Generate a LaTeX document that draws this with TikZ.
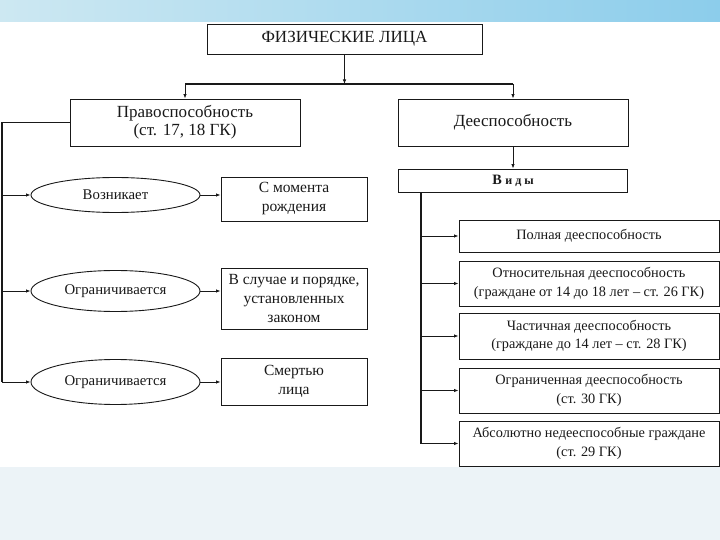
\documentclass[tikz,border=0pt]{standalone}
\usepackage{fontspec}
\setmainfont{Liberation Serif}
\usetikzlibrary{arrows.meta,shapes.geometric}
\definecolor{bandL}{RGB}{205,232,242}
\definecolor{bandR}{RGB}{140,205,235}
\definecolor{botbg}{RGB}{236,243,247}
\definecolor{ink}{RGB}{25,25,25}
\begin{document}
\begin{tikzpicture}[x=1pt,y=-1pt,
  box/.style={draw=ink, line width=0.9pt, fill=white, text=ink, align=center, inner sep=0pt},
  oval/.style={ellipse, draw=ink, line width=0.9pt, fill=white, text=ink, inner sep=0pt},
  trunk/.style={draw=ink, line width=1.2pt},
  arr/.style={draw=ink, line width=0.8pt, -{Latex[length=4.5pt,width=3.5pt]}},
  big/.style={font=\fontsize{17}{18}\selectfont},
  ovtext/.style={font=\fontsize{14.8}{17}\selectfont},
  mid/.style={font=\fontsize{15.5}{19}\selectfont},
  sml/.style={font=\fontsize{14.3}{18.5}\selectfont}]
\useasboundingbox (0,0) rectangle (720,540);
\fill[white] (0,0) rectangle (720,540);
\shade[left color=bandL, right color=bandR] (0,0) rectangle (720,22);
\fill[botbg] (0,467) rectangle (720,540);

% top level
\node[box, big, minimum width=275pt, minimum height=30pt] (top) at (344.5,39) {ФИЗИЧЕСКИЕ ЛИЦА};
\node[box, big, minimum width=230pt, minimum height=47pt] (pravo) at (185,122.5) {Правоспособность\\(ст. 17, 18 ГК)};
\node[box, big, minimum width=230pt, minimum height=47pt] (dee) at (513,122.5) {Дееспособность};
\node[box, sml, minimum width=229pt, minimum height=23pt] (vidy) at (513,180.5) {\textbf{В {\fontsize{12}{14}\selectfont и д ы}}};

% left column
\node[oval, ovtext, minimum width=169pt, minimum height=35pt] (e1) at (115.5,195) {Возникает};
\node[oval, ovtext, minimum width=169pt, minimum height=41pt] (e2) at (115.5,291) {Ограничивается};
\node[oval, ovtext, minimum width=169pt, minimum height=45pt] (e3) at (115.5,382) {Ограничивается};
\node[box, mid, minimum width=146pt, minimum height=44pt] (b1) at (294,199) {С момента\\рождения};
\node[box, mid, minimum width=146pt, minimum height=61pt] (b2) at (294,298.5) {В случае и порядке,\\установленных\\законом};
\node[box, mid, minimum width=146pt, minimum height=47pt] (b3) at (294,381.5) {Смертью\\лица};

% right column
\node[box, sml, minimum width=260pt, minimum height=32pt] (r1) at (589,236) {Полная дееспособность};
\node[box, sml, minimum width=260pt, minimum height=45pt] (r2) at (589,283.5) {Относительная дееспособность\\(граждане от 14 до 18 лет -- ст. 26 ГК)};
\node[box, sml, minimum width=260pt, minimum height=46pt] (r3) at (589,336) {Частичная дееспособность\\(граждане до 14 лет -- ст. 28 ГК)};
\node[box, sml, minimum width=260pt, minimum height=45pt] (r4) at (589,390.5) {Ограниченная дееспособность\\(ст. 30 ГК)};
\node[box, sml, minimum width=260pt, minimum height=45pt] (r5) at (589,443.5) {Абсолютно недееспособные граждане\\(ст. 29 ГК)};

% connectors top
\coordinate (hub) at (344.5,84);
\coordinate (hl) at (185,84);
\coordinate (hr) at (513,84);
\draw[arr] (top.south) -- (hub);
\draw[trunk] (hl) -- (hr);
\draw[arr] (hl) -- (pravo.north);
\draw[arr] (hr) -- (dee.north);
\draw[arr] (dee.south) -- (vidy.north);

% left trunk
\coordinate (lt) at (2,122.5);
\coordinate (lb) at (2,382);
\draw[trunk] (pravo.west) -- (lt) -- (lb);
\draw[arr] (lt |- e1.west) -- (e1.west);
\draw[arr] (lt |- e2.west) -- (e2.west);
\draw[arr] (lb) -- (e3.west);
\draw[arr] (e1.east) -- (e1.east -| b1.west);
\draw[arr] (e2.east) -- (e2.east -| b2.west);
\draw[arr] (e3.east) -- (e3.east -| b3.west);

% right trunk
\coordinate (rb) at (421,443.5);
\draw[trunk] (vidy.south -| rb) -- (rb);
\draw[arr] (rb |- r1.west) -- (r1.west);
\draw[arr] (rb |- r2.west) -- (r2.west);
\draw[arr] (rb |- r3.west) -- (r3.west);
\draw[arr] (rb |- r4.west) -- (r4.west);
\draw[arr] (rb) -- (r5.west);
\end{tikzpicture}
\end{document}
